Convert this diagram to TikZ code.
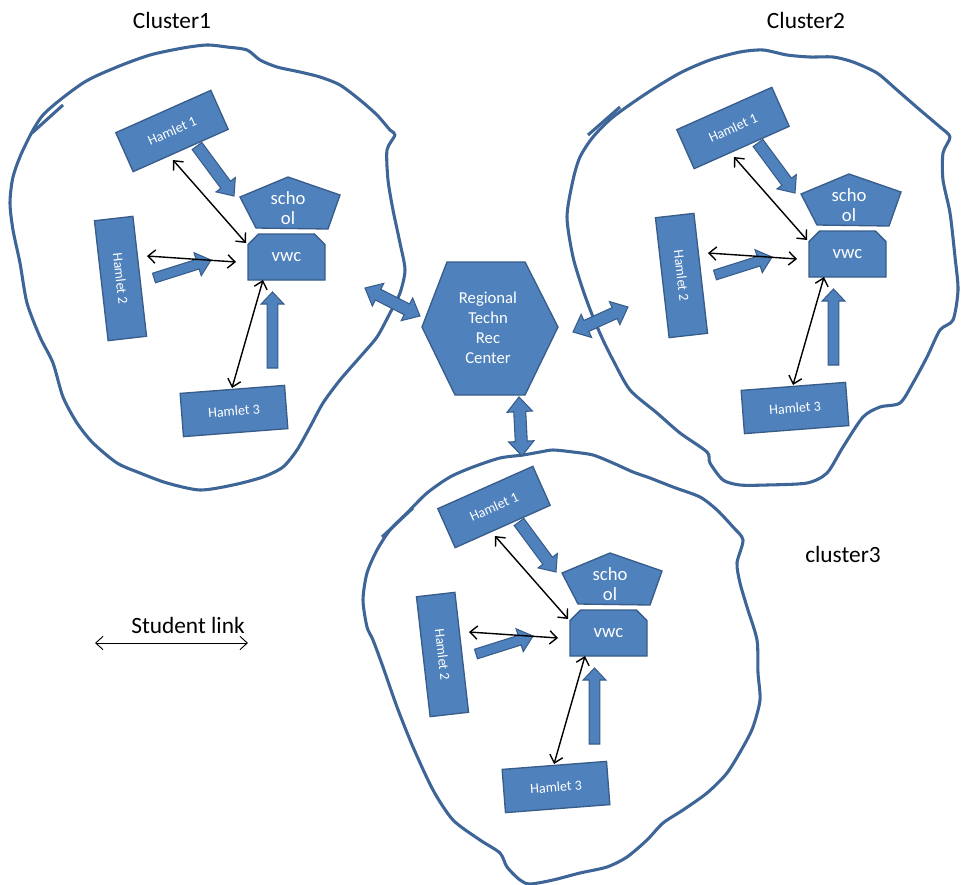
\documentclass[tikz,border=0pt]{standalone}
\usepackage{fontspec}
\setmainfont{Carlito}
\usetikzlibrary{calc,arrows.meta,shapes.misc}
\definecolor{boxblue}{HTML}{4F81BD}
\definecolor{boxline}{HTML}{385D8A}
\definecolor{blobline}{HTML}{3E6597}
\tikzset{
 hamlet/.style={draw=boxline, fill=boxblue, line width=1pt, text=white, inner sep=0pt, font=\fontsize{10.5}{12}\selectfont},
 shapefill/.style={draw=boxline, fill=boxblue, line width=1pt, line join=miter},
 barrow/.style={draw=boxline, fill=boxblue, line width=0.8pt, line join=miter},
 blob/.style={draw=blobline, line width=2.3pt, line join=round},
 link/.style={draw=black, line width=1.05pt, {Straight Barb[length=5.5pt,width=10pt]}-{Straight Barb[length=5.5pt,width=10pt]}},
 lbl/.style={font=\fontsize{17.5}{20}\selectfont, inner sep=0pt},
 wtext/.style={text=white, align=center, inner sep=0pt},
}
% single block arrow: from, to, half shaft, half head, head length
\newcommand\blockarrow[5]{%
 \coordinate (bah) at ($(#2)!#5!(#1)$);
 \filldraw[barrow] ($(#1)!#3!90:(#2)$) -- ($(bah)!#3!90:(#2)$) -- ($(bah)!#4!90:(#2)$) -- (#2) -- ($(bah)!#4!-90:(#2)$) -- ($(bah)!#3!-90:(#2)$) -- ($(#1)!#3!-90:(#2)$) -- cycle;}
% double block arrow
\newcommand\dblockarrow[5]{%
 \coordinate (bha) at ($(#1)!#5!(#2)$);
 \coordinate (bhb) at ($(#2)!#5!(#1)$);
 \filldraw[barrow] (#1) -- ($(bha)!#4!90:(#2)$) -- ($(bha)!#3!90:(#2)$) -- ($(bhb)!#3!90:(#2)$) -- ($(bhb)!#4!90:(#2)$) -- (#2) -- ($(bhb)!#4!-90:(#2)$) -- ($(bhb)!#3!-90:(#2)$) -- ($(bha)!#3!-90:(#2)$) -- ($(bha)!#4!-90:(#2)$) -- cycle;}
% one cluster's contents: prefix, dx, dy
\newcommand\clusterparts[3]{%
 \begin{scope}[shift={(#2,#3)}]
  \node[hamlet, rotate=24, minimum width=78pt, minimum height=32pt] (#1h1) at (172,131) {Hamlet 1};
  \node[hamlet, rotate=-83.5, minimum width=90.5pt, minimum height=29pt] (#1h2) at (120.5,278.5) {Hamlet 2};
  \node[hamlet, rotate=4.4, minimum width=78.5pt, minimum height=32.5pt] (#1h3) at (234,411) {Hamlet 3};
  \filldraw[shapefill] (288,177) -- (340,195) -- (328,229) -- (256,228) -- (240,197) -- cycle;
  \node[wtext, font=\fontsize{14}{15.5}\selectfont] (#1sch) at (288,208) {scho\\ol};
  \node[shapefill, chamfered rectangle, chamfered rectangle corners={north west,north east}, chamfered rectangle xsep=4.5pt, chamfered rectangle ysep=4.5pt, minimum width=57.75pt, minimum height=34.5pt, inner sep=0pt, text=white, font=\fontsize{14}{15}\selectfont] (#1vwc) at (286.5,257) {vwc};
  % block arrows
  \coordinate (#1b1s) at (197,146); \coordinate (#1b1e) at (234,196);
  \blockarrow{#1b1s}{#1b1e}{4.5pt}{9pt}{10.5pt}
  \coordinate (#1b2s) at (154,278); \coordinate (#1b2e) at (211,260);
  \blockarrow{#1b2s}{#1b2e}{3.75pt}{9pt}{10.5pt}
  \coordinate (#1b3s) at (272.5,368); \coordinate (#1b3e) at (272.5,292);
  \blockarrow{#1b3s}{#1b3e}{4pt}{8.5pt}{9pt}
  % student links
  \coordinate (#1a1s) at (173,160); \coordinate (#1a1e) at (246,243);
  \coordinate (#1a2s) at (147,256); \coordinate (#1a2e) at (236,262);
  \coordinate (#1a3s) at (232,388); \coordinate (#1a3e) at (263,280);
  \draw[link] (#1a1s) -- (#1a1e);
  \draw[link] (#1a2s) -- (#1a2e);
  \draw[link] (#1a3s) -- (#1a3e);
 \end{scope}}
\begin{document}
\begin{tikzpicture}[x=0.75pt,y=-0.75pt]
\fill[white] (0,0) rectangle (964,885);
\useasboundingbox (0,0) rectangle (964,885);
% cluster outlines
\draw[blob] plot[smooth cycle, tension=0.45] coordinates {(43,115) (83,83) (117,67) (150,55) (183,48) (207,45) (227,47) (247,50) (260,60) (277,67) (300,72) (320,77) (340,85) (360,100) (377,115) (390,130) (395,135) (387,150) (388,180) (393,210) (400,243) (405,270) (400,293) (390,313) (377,337) (360,357) (340,380) (323,403) (310,427) (297,450) (283,467) (263,477) (233,485) (200,490) (167,483) (140,473) (117,463) (93,443) (77,423) (63,397) (53,363) (40,337) (27,303) (20,263) (13,230) (10,203) (13,177) (23,150)};
\draw[blob] (32,133) -- (63,105);
\draw[blob] plot[smooth cycle, tension=0.45] coordinates {(593,137) (613,117) (647,93) (680,73) (710,60) (740,52) (763,50) (787,55) (810,57) (833,57) (853,62) (877,73) (897,90) (920,110) (940,127) (950,137) (943,153) (943,180) (950,213) (955,257) (958,290) (953,320) (940,330) (927,357) (913,383) (900,403) (880,407) (863,417) (843,447) (827,473) (807,483) (767,485) (740,485) (723,480) (710,463) (707,452) (680,433) (657,413) (630,390) (613,360) (603,340) (593,317) (583,290) (573,257) (567,217) (573,180) (580,157)};
\draw[blob] (588,135) -- (620,107);
\draw[blob] plot[smooth cycle, tension=0.45] coordinates {(377,550) (390,530) (407,513) (427,493) (450,477) (473,467) (500,458) (523,455) (540,452) (553,450) (573,452) (593,455) (613,463) (633,472) (650,478) (673,487) (700,497) (717,510) (733,527) (743,540) (737,563) (740,583) (747,607) (757,640) (758,673) (760,700) (753,727) (743,747) (727,773) (707,793) (683,810) (663,823) (647,840) (627,857) (607,867) (580,873) (553,880) (530,884) (520,880) (507,867) (500,853) (480,840) (453,820) (433,790) (413,747) (397,707) (383,667) (373,640) (367,627) (363,600) (367,573)};
\draw[blob] (382,537) -- (413,508);
% cluster contents
\clusterparts{ca}{0}{0}
\clusterparts{cb}{561}{-3}
\clusterparts{cc}{322}{376}
% hub
\filldraw[shapefill] (422,327) -- (447,262) -- (525,262) -- (558,327) -- (525,395) -- (455,395) -- cycle;
\node[wtext, font=\fontsize{12.5}{15}\selectfont] (hub) at (488,328) {Regional\\Techn\\Rec\\Center};
% links hub - clusters
\coordinate (l1a) at (365,288); \coordinate (l1b) at (420,316);
\dblockarrow{l1a}{l1b}{4.5pt}{9.5pt}{11pt}
\coordinate (l2a) at (573,332); \coordinate (l2b) at (628,307);
\dblockarrow{l2a}{l2b}{4.5pt}{9.5pt}{11pt}
\coordinate (l3a) at (519,397); \coordinate (l3b) at (522,456);
\dblockarrow{l3a}{l3b}{4.5pt}{9.5pt}{11pt}
% labels
\node[lbl] (t1) at (172,20) {Cluster1};
\node[lbl] (t2) at (806,20) {Cluster2};
\node[lbl] (t3) at (843,554) {cluster3};
\node[lbl] (leg) at (188,625) {Student link};
\coordinate (lega) at (95,643); \coordinate (legb) at (248,643);
\draw[link, line width=0.7pt] (lega) -- (legb);
\end{tikzpicture}
\end{document}
